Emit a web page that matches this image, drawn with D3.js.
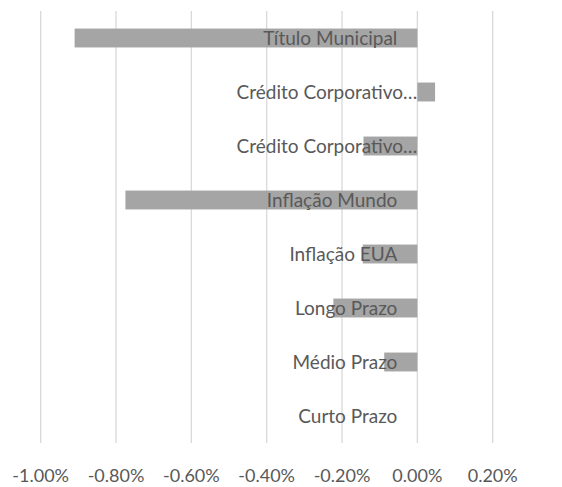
<!DOCTYPE html>
<html>
<head>
  <meta charset="utf-8">
  <script src="https://d3js.org/d3.v7.min.js"></script>
</head>
<body style="margin:0px; overflow:hidden; background:#fff;">
  <svg id="chart" width="562" height="487"></svg>
  <script>
    // Data
    const categories = ["Título Municipal", "Crédito Corporativo…", "Crédito Corporativo…",
      "Inflação Mundo", "Inflação EUA", "Longo Prazo", "Médio Prazo", "Curto Prazo"];
    const values = [-0.91, 0.047, -0.143, -0.775, -0.145, -0.223, -0.088, 0.0];
    const truncated = [false, true, true, false, false, false, false, false];
    const ticks = [-1.0, -0.8, -0.6, -0.4, -0.2, 0.0, 0.2];

    const svg = d3.select("#chart");
    const font = "Lato, 'Noto Sans', sans-serif";

    // Scales
    const x = d3.scaleLinear().domain([-1.0, 0.2]).range([40.7, 492.7]);
    const y = d3.scaleBand().domain(d3.range(categories.length)).range([11, 443]).paddingInner(0.65).paddingOuter(0.325);

    // Gridlines
    svg.append("g")
      .selectAll("line")
      .data(ticks).enter()
      .append("line")
      .attr("x1", d => x(d)).attr("x2", d => x(d))
      .attr("y1", 11).attr("y2", 443)
      .attr("stroke", "#d9d9d9")
      .attr("stroke-width", 1.3);

    // Bars
    svg.append("g")
      .selectAll("rect")
      .data(values).enter()
      .append("rect")
      .attr("x", d => x(Math.min(0, d)))
      .attr("width", d => Math.abs(x(d) - x(0)))
      .attr("y", (d, i) => y(i))
      .attr("height", y.bandwidth())
      .attr("fill", "#a5a5a5");

    // Category labels
    svg.append("g")
      .selectAll("text")
      .data(categories).enter()
      .append("text")
      .attr("x", (d, i) => truncated[i] ? x(0) : x(0) - 20)
      .attr("y", (d, i) => y(i) + y.bandwidth() / 2)
      .attr("dy", "0.35em")
      .attr("text-anchor", "end")
      .style("font-family", font)
      .style("font-size", "19px")
      .style("fill", "#595959")
      .text(d => d);

    // X axis labels
    svg.append("g")
      .selectAll("text")
      .data(ticks).enter()
      .append("text")
      .attr("x", d => x(d))
      .attr("y", 482)
      .attr("text-anchor", "middle")
      .style("font-family", font)
      .style("font-size", "18px")
      .style("fill", "#595959")
      .text(d => d3.format(".2f")(d).replace("\u2212", "-") + "%");
  </script>
</body>
</html>
